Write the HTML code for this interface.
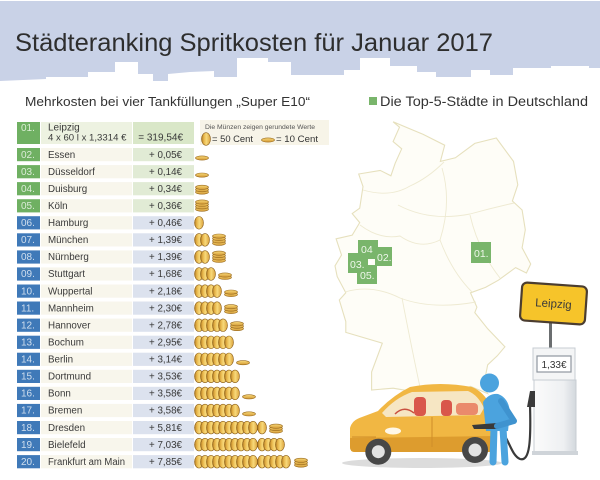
<!DOCTYPE html>
<html><head><meta charset="utf-8"><style>
html,body{margin:0;padding:0;background:#fff;}
svg{display:block;}
text{font-family:"Liberation Sans",sans-serif;}
</style></head><body>
<svg width="600" height="480" viewBox="0 0 600 480" xmlns="http://www.w3.org/2000/svg">
<defs>
<linearGradient id="cg" x1="0" y1="0" x2="1" y2="0">
<stop offset="0" stop-color="#a8741f"/><stop offset="0.25" stop-color="#e6b348"/><stop offset="0.55" stop-color="#f8da7a"/><stop offset="1" stop-color="#d89f3a"/>
</linearGradient>
<linearGradient id="fg" x1="0" y1="0" x2="0" y2="1">
<stop offset="0" stop-color="#f8d97a"/><stop offset="1" stop-color="#d49a35"/>
</linearGradient>
<linearGradient id="pg" x1="0" y1="0" x2="1" y2="0">
<stop offset="0" stop-color="#fbfbfb"/><stop offset="0.7" stop-color="#eef0f2"/><stop offset="1" stop-color="#d3d8dd"/>
</linearGradient>
<ellipse id="c" cx="0" cy="0" rx="4.5" ry="6.3" fill="url(#cg)" stroke="#8a5d18" stroke-width="0.6"/>
<ellipse id="f" cx="0" cy="0" rx="6.5" ry="2.1" fill="url(#fg)" stroke="#9a6b1e" stroke-width="0.6"/>
</defs>

<!-- header band -->
<rect x="0" y="1" width="600" height="86" fill="#c9d2e7"/>
<polygon fill="#ffffff" points="0,81 46,79 46,77 88,77 88,72 115,72 115,62 138,62 138,74 153,74 153,81 168,81 168,74 190,72 214,71 214,77 237,77 237,58 268,58 268,62 291,62 291,75 344,75 344,70 360,70 360,58 390,58 390,66 417,66 417,72 436,72 436,77 471,77 471,70 490,70 490,75 513,75 513,68 551,68 551,66 589,66 589,68 600,68 600,90 0,90"/>
<text x="15" y="51" font-size="25" textLength="478" lengthAdjust="spacingAndGlyphs" fill="#2e2e2e">Städteranking Spritkosten für Januar 2017</text>

<text x="25" y="106" font-size="13" textLength="285" lengthAdjust="spacingAndGlyphs" fill="#333">Mehrkosten bei vier Tankfüllungen „Super E10“</text>
<rect x="369" y="97" width="8" height="8" fill="#79b56b"/>
<text x="380" y="106" font-size="13.5" textLength="208" lengthAdjust="spacingAndGlyphs" fill="#333">Die Top-5-Städte in Deutschland</text>

<!-- map -->
<path d="M393.1,121.8 L410.3,129 L423.2,134.4 L444.7,145.2 L440.4,161.4 L455.4,157.8 L474.8,143.4 L496.3,138 L513.5,161.4 L517.8,184.8 L512.4,201 L522.1,210 L525.3,229.8 L522.1,247.8 L530.7,264 L526.4,273 L515.6,267.6 L498.4,280.2 L485.5,287.4 L470.5,292.8 L476.9,307.2 L474.8,312.6 L487.7,328.8 L504.9,346.8 L497.3,355.8 L487.7,364.8 L483.4,386.4 L487.7,393.6 L470.5,386.4 L449,397.2 L433.9,391.8 L423.2,397.2 L414.6,391.8 L393.1,388.2 L371.6,390 L371.6,372 L382.3,343.2 L345.8,332.4 L345.8,321.6 L339.3,300 L345.8,292.8 L337.2,276.6 L335,265.8 L341.5,255 L336.1,238.8 L352.2,235.2 L359.7,222.6 L352.2,213.6 L359.7,208.2 L363,186.6 L358.7,174 L380.2,170.4 L390.9,175.8 L395.2,163.2 L401.7,148.8 L393.1,141.6 L399.5,127.2 Z" fill="#fefdf7" stroke="#e6e0bd" stroke-width="1.1"/>
<g fill="none" stroke="#eeead2" stroke-width="0.9">
<path d="M363,190 Q390,198 410,186 Q428,178 444,162"/>
<path d="M398,205 Q430,222 470,214 Q492,208 514,203"/>
<path d="M345,292 Q372,284 400,298 Q432,310 476,302"/>
<path d="M402,298 Q410,340 421,392"/>
<path d="M442,168 Q452,202 440,240 Q452,272 472,292"/>
<path d="M470,215 Q478,250 500,278"/>
<path d="M360,225 Q380,240 400,236 Q420,250 440,240"/>
</g>
<!-- map markers -->
<g fill="#79b56b">
<rect x="471" y="242" width="20" height="21"/>
<rect x="358" y="240" width="20" height="19"/>
<rect x="375" y="247" width="17" height="19"/>
<rect x="348" y="253" width="20" height="20"/>
<rect x="357" y="265" width="20" height="19"/>
</g>
<rect x="369" y="261" width="2.5" height="2.5" fill="#fff"/>
<g font-size="10.5" fill="#eef7ea">
<text x="474" y="257">01.</text>
<text x="361" y="253">04</text>
<text x="377" y="261">02.</text>
<text x="350" y="268">03.</text>
<text x="360" y="279">05.</text>
</g>

<!-- legend box -->
<rect x="200" y="120" width="129" height="25" fill="#f7f4e8"/>
<text x="205" y="129" font-size="6.7" textLength="110" lengthAdjust="spacingAndGlyphs" fill="#555">Die Münzen zeigen gerundete Werte</text>
<use href="#c" x="206" y="139"/>
<text x="212" y="142" font-size="9.5" textLength="41" lengthAdjust="spacingAndGlyphs" fill="#333">= 50 Cent</text>
<use href="#f" x="268" y="140"/>
<text x="276" y="142" font-size="9.5" textLength="42" lengthAdjust="spacingAndGlyphs" fill="#333">= 10 Cent</text>

<!-- table row 01 -->
<rect x="17" y="122" width="23" height="22" fill="#6fb062"/>
<rect x="41" y="122" width="91" height="22" fill="#edf2e1"/>
<rect x="133" y="122" width="61" height="22" fill="#d9e7c8"/>
<text x="21" y="131" font-size="10" fill="#dcefd6">01.</text>
<text x="48" y="130.5" font-size="10" fill="#3a3a3a">Leipzig</text>
<text x="48" y="140.5" font-size="9.6" fill="#3a3a3a">4 x 60 l x 1,3314 €</text>
<text x="183" y="140.5" font-size="10" text-anchor="end" fill="#3a3a3a">= 319,54€</text>

<!-- rows 02-20 backgrounds -->
<g>
<rect x="17" y="148.0" width="23" height="13.2" fill="#6fb062"/><rect x="41" y="148.0" width="91" height="13.2" fill="#f8f6ec"/><rect x="133" y="148.0" width="61" height="13.2" fill="#e1ebd5"/>
<rect x="17" y="165.1" width="23" height="13.2" fill="#6fb062"/><rect x="41" y="165.1" width="91" height="13.2" fill="#f8f6ec"/><rect x="133" y="165.1" width="61" height="13.2" fill="#e1ebd5"/>
<rect x="17" y="182.1" width="23" height="13.2" fill="#6fb062"/><rect x="41" y="182.1" width="91" height="13.2" fill="#f8f6ec"/><rect x="133" y="182.1" width="61" height="13.2" fill="#e1ebd5"/>
<rect x="17" y="199.2" width="23" height="13.2" fill="#6fb062"/><rect x="41" y="199.2" width="91" height="13.2" fill="#f8f6ec"/><rect x="133" y="199.2" width="61" height="13.2" fill="#e1ebd5"/>
<rect x="17" y="216.2" width="23" height="13.2" fill="#3f79b8"/><rect x="41" y="216.2" width="91" height="13.2" fill="#f8f6ec"/><rect x="133" y="216.2" width="61" height="13.2" fill="#dce2ee"/>
<rect x="17" y="233.3" width="23" height="13.2" fill="#3f79b8"/><rect x="41" y="233.3" width="91" height="13.2" fill="#f8f6ec"/><rect x="133" y="233.3" width="61" height="13.2" fill="#dce2ee"/>
<rect x="17" y="250.4" width="23" height="13.2" fill="#3f79b8"/><rect x="41" y="250.4" width="91" height="13.2" fill="#f8f6ec"/><rect x="133" y="250.4" width="61" height="13.2" fill="#dce2ee"/>
<rect x="17" y="267.4" width="23" height="13.2" fill="#3f79b8"/><rect x="41" y="267.4" width="91" height="13.2" fill="#f8f6ec"/><rect x="133" y="267.4" width="61" height="13.2" fill="#dce2ee"/>
<rect x="17" y="284.5" width="23" height="13.2" fill="#3f79b8"/><rect x="41" y="284.5" width="91" height="13.2" fill="#f8f6ec"/><rect x="133" y="284.5" width="61" height="13.2" fill="#dce2ee"/>
<rect x="17" y="301.5" width="23" height="13.2" fill="#3f79b8"/><rect x="41" y="301.5" width="91" height="13.2" fill="#f8f6ec"/><rect x="133" y="301.5" width="61" height="13.2" fill="#dce2ee"/>
<rect x="17" y="318.6" width="23" height="13.2" fill="#3f79b8"/><rect x="41" y="318.6" width="91" height="13.2" fill="#f8f6ec"/><rect x="133" y="318.6" width="61" height="13.2" fill="#dce2ee"/>
<rect x="17" y="335.7" width="23" height="13.2" fill="#3f79b8"/><rect x="41" y="335.7" width="91" height="13.2" fill="#f8f6ec"/><rect x="133" y="335.7" width="61" height="13.2" fill="#dce2ee"/>
<rect x="17" y="352.7" width="23" height="13.2" fill="#3f79b8"/><rect x="41" y="352.7" width="91" height="13.2" fill="#f8f6ec"/><rect x="133" y="352.7" width="61" height="13.2" fill="#dce2ee"/>
<rect x="17" y="369.8" width="23" height="13.2" fill="#3f79b8"/><rect x="41" y="369.8" width="91" height="13.2" fill="#f8f6ec"/><rect x="133" y="369.8" width="61" height="13.2" fill="#dce2ee"/>
<rect x="17" y="386.8" width="23" height="13.2" fill="#3f79b8"/><rect x="41" y="386.8" width="91" height="13.2" fill="#f8f6ec"/><rect x="133" y="386.8" width="61" height="13.2" fill="#dce2ee"/>
<rect x="17" y="403.9" width="23" height="13.2" fill="#3f79b8"/><rect x="41" y="403.9" width="91" height="13.2" fill="#f8f6ec"/><rect x="133" y="403.9" width="61" height="13.2" fill="#dce2ee"/>
<rect x="17" y="421.0" width="23" height="13.2" fill="#3f79b8"/><rect x="41" y="421.0" width="91" height="13.2" fill="#f8f6ec"/><rect x="133" y="421.0" width="61" height="13.2" fill="#dce2ee"/>
<rect x="17" y="438.0" width="23" height="13.2" fill="#3f79b8"/><rect x="41" y="438.0" width="91" height="13.2" fill="#f8f6ec"/><rect x="133" y="438.0" width="61" height="13.2" fill="#dce2ee"/>
<rect x="17" y="455.1" width="23" height="13.2" fill="#3f79b8"/><rect x="41" y="455.1" width="91" height="13.2" fill="#f8f6ec"/><rect x="133" y="455.1" width="61" height="13.2" fill="#dce2ee"/>
</g>

<!-- number labels -->
<g font-size="10" fill="rgba(255,255,255,0.75)">
<text x="21" y="157.8">02.</text><text x="21" y="174.9">03.</text><text x="21" y="191.9">04.</text><text x="21" y="209.0">05.</text>
<text x="21" y="226.0">06.</text><text x="21" y="243.1">07.</text><text x="21" y="260.2">08.</text><text x="21" y="277.2">09.</text>
<text x="21" y="294.3">10.</text><text x="21" y="311.3">11.</text><text x="21" y="328.4">12.</text><text x="21" y="345.5">13.</text>
<text x="21" y="362.5">14.</text><text x="21" y="379.6">15.</text><text x="21" y="396.6">16.</text><text x="21" y="413.7">17.</text>
<text x="21" y="430.8">18.</text><text x="21" y="447.8">19.</text><text x="21" y="464.9">20.</text>
</g>
<!-- names -->
<g font-size="9.8" fill="#3a3a3a">
<text x="48" y="157.8">Essen</text><text x="48" y="174.9">Düsseldorf</text><text x="48" y="191.9">Duisburg</text><text x="48" y="209.0">Köln</text>
<text x="48" y="226.0">Hamburg</text><text x="48" y="243.1">München</text><text x="48" y="260.2">Nürnberg</text><text x="48" y="277.2">Stuttgart</text>
<text x="48" y="294.3">Wuppertal</text><text x="48" y="311.3">Mannheim</text><text x="48" y="328.4">Hannover</text><text x="48" y="345.5">Bochum</text>
<text x="48" y="362.5">Berlin</text><text x="48" y="379.6">Dortmund</text><text x="48" y="396.6">Bonn</text><text x="48" y="413.7">Bremen</text>
<text x="48" y="430.8">Dresden</text><text x="48" y="447.8">Bielefeld</text><text x="48" y="464.9" textLength="77" lengthAdjust="spacingAndGlyphs">Frankfurt am Main</text>
</g>
<!-- values -->
<g font-size="9.8" fill="#3a3a3a" text-anchor="end">
<text x="182" y="157.8">+ 0,05€</text><text x="182" y="174.9">+ 0,14€</text><text x="182" y="191.9">+ 0,34€</text><text x="182" y="209.0">+ 0,36€</text>
<text x="182" y="226.0">+ 0,46€</text><text x="182" y="243.1">+ 1,39€</text><text x="182" y="260.2">+ 1,39€</text><text x="182" y="277.2">+ 1,68€</text>
<text x="182" y="294.3">+ 2,18€</text><text x="182" y="311.3">+ 2,30€</text><text x="182" y="328.4">+ 2,78€</text><text x="182" y="345.5">+ 2,95€</text>
<text x="182" y="362.5">+ 3,14€</text><text x="182" y="379.6">+ 3,53€</text><text x="182" y="396.6">+ 3,58€</text><text x="182" y="413.7">+ 3,58€</text>
<text x="182" y="430.8">+ 5,81€</text><text x="182" y="447.8">+ 7,03€</text><text x="182" y="464.9">+ 7,85€</text>
</g>

<!-- coins -->
<g>
<use href="#f" x="202" y="158.0"/>
<use href="#f" x="202" y="175.1"/>
<use href="#f" x="202" y="192.1"/><use href="#f" x="202" y="189.7"/><use href="#f" x="202" y="187.3"/>
<use href="#f" x="202" y="209.2"/><use href="#f" x="202" y="206.8"/><use href="#f" x="202" y="204.4"/><use href="#f" x="202" y="202.0"/>
<use href="#c" x="199" y="222.8"/>
<use href="#c" x="199" y="239.9"/><use href="#c" x="205" y="239.9"/>
<use href="#f" x="219" y="243.3"/><use href="#f" x="219" y="240.9"/><use href="#f" x="219" y="238.5"/><use href="#f" x="219" y="236.1"/>
<use href="#c" x="199" y="257.0"/><use href="#c" x="205" y="257.0"/>
<use href="#f" x="219" y="260.4"/><use href="#f" x="219" y="258.0"/><use href="#f" x="219" y="255.6"/><use href="#f" x="219" y="253.2"/>
<use href="#c" x="199" y="274.0"/><use href="#c" x="205" y="274.0"/><use href="#c" x="211" y="274.0"/>
<use href="#f" x="225" y="277.4"/><use href="#f" x="225" y="275.0"/>
<use href="#c" x="199" y="291.1"/><use href="#c" x="205" y="291.1"/><use href="#c" x="211" y="291.1"/><use href="#c" x="217" y="291.1"/>
<use href="#f" x="231" y="294.5"/><use href="#f" x="231" y="292.1"/>
<use href="#c" x="199" y="308.1"/><use href="#c" x="205" y="308.1"/><use href="#c" x="211" y="308.1"/><use href="#c" x="217" y="308.1"/>
<use href="#f" x="231" y="311.5"/><use href="#f" x="231" y="309.1"/><use href="#f" x="231" y="306.7"/>
<use href="#c" x="199" y="325.2"/><use href="#c" x="205" y="325.2"/><use href="#c" x="211" y="325.2"/><use href="#c" x="217" y="325.2"/><use href="#c" x="223" y="325.2"/>
<use href="#f" x="237" y="328.6"/><use href="#f" x="237" y="326.2"/><use href="#f" x="237" y="323.8"/>
<use href="#c" x="199" y="342.3"/><use href="#c" x="205" y="342.3"/><use href="#c" x="211" y="342.3"/><use href="#c" x="217" y="342.3"/><use href="#c" x="223" y="342.3"/><use href="#c" x="229" y="342.3"/>
<use href="#c" x="199" y="359.3"/><use href="#c" x="205" y="359.3"/><use href="#c" x="211" y="359.3"/><use href="#c" x="217" y="359.3"/><use href="#c" x="223" y="359.3"/><use href="#c" x="229" y="359.3"/>
<use href="#f" x="243" y="362.7"/>
<use href="#c" x="199" y="376.4"/><use href="#c" x="205" y="376.4"/><use href="#c" x="211" y="376.4"/><use href="#c" x="217" y="376.4"/><use href="#c" x="223" y="376.4"/><use href="#c" x="229" y="376.4"/><use href="#c" x="235" y="376.4"/>
<use href="#c" x="199" y="393.4"/><use href="#c" x="205" y="393.4"/><use href="#c" x="211" y="393.4"/><use href="#c" x="217" y="393.4"/><use href="#c" x="223" y="393.4"/><use href="#c" x="229" y="393.4"/><use href="#c" x="235" y="393.4"/>
<use href="#f" x="249" y="396.8"/>
<use href="#c" x="199" y="410.5"/><use href="#c" x="205" y="410.5"/><use href="#c" x="211" y="410.5"/><use href="#c" x="217" y="410.5"/><use href="#c" x="223" y="410.5"/><use href="#c" x="229" y="410.5"/><use href="#c" x="235" y="410.5"/>
<use href="#f" x="249" y="413.9"/>
<use href="#c" x="199" y="427.6"/><use href="#c" x="205" y="427.6"/><use href="#c" x="211" y="427.6"/><use href="#c" x="217" y="427.6"/><use href="#c" x="223" y="427.6"/><use href="#c" x="229" y="427.6"/><use href="#c" x="235" y="427.6"/><use href="#c" x="241" y="427.6"/><use href="#c" x="247" y="427.6"/><use href="#c" x="253" y="427.6"/><use href="#c" x="262" y="427.6"/>
<use href="#f" x="276" y="431.0"/><use href="#f" x="276" y="428.6"/><use href="#f" x="276" y="426.2"/>
<use href="#c" x="199" y="444.6"/><use href="#c" x="205" y="444.6"/><use href="#c" x="211" y="444.6"/><use href="#c" x="217" y="444.6"/><use href="#c" x="223" y="444.6"/><use href="#c" x="229" y="444.6"/><use href="#c" x="235" y="444.6"/><use href="#c" x="241" y="444.6"/><use href="#c" x="247" y="444.6"/><use href="#c" x="253" y="444.6"/><use href="#c" x="262" y="444.6"/><use href="#c" x="268" y="444.6"/><use href="#c" x="274" y="444.6"/><use href="#c" x="280" y="444.6"/>
<use href="#c" x="199" y="461.7"/><use href="#c" x="205" y="461.7"/><use href="#c" x="211" y="461.7"/><use href="#c" x="217" y="461.7"/><use href="#c" x="223" y="461.7"/><use href="#c" x="229" y="461.7"/><use href="#c" x="235" y="461.7"/><use href="#c" x="241" y="461.7"/><use href="#c" x="247" y="461.7"/><use href="#c" x="253" y="461.7"/><use href="#c" x="262" y="461.7"/><use href="#c" x="268" y="461.7"/><use href="#c" x="274" y="461.7"/><use href="#c" x="280" y="461.7"/><use href="#c" x="286" y="461.7"/>
<use href="#f" x="301" y="465.1"/><use href="#f" x="301" y="462.7"/><use href="#f" x="301" y="460.3"/>
</g>

<!-- sign -->
<rect x="549" y="323" width="3" height="26" fill="#6b6e70"/>
<g transform="rotate(4 553.5 303.5)">
<rect x="521" y="284.5" width="65" height="38" rx="5" fill="#f6c42a" stroke="#4b3d30" stroke-width="2.2"/>
<text x="553.5" y="307.5" font-size="11.5" text-anchor="middle" fill="#3a3a3a">Leipzig</text>
</g>

<!-- pump -->
<rect x="533" y="348" width="42" height="32" fill="#f4f5f6" stroke="#c7cdd3" stroke-width="1"/>
<rect x="537" y="356" width="34" height="16" fill="#ffffff" stroke="#8f979f" stroke-width="1.2"/>
<text x="554" y="368" font-size="10" text-anchor="middle" fill="#333">1,33€</text>
<rect x="534" y="380" width="42" height="73" fill="url(#pg)" stroke="#c7cdd3" stroke-width="1"/>
<rect x="532" y="451" width="46" height="4" fill="#cfd4d9"/>

<!-- car shadow -->
<ellipse cx="422" cy="463" rx="80" ry="5" fill="#dcdcdc"/>
<!-- car -->
<path d="M350,447 L350,428 Q352,420 362,417 L378,411 Q392,396 410,387 Q440,381 472,387 Q484,392 490,405 Q495,420 495,445 Q495,452 488,452 L355,452 Q350,452 350,447 Z" fill="#f1b743"/>
<path d="M350,438 L495,436 L495,447 Q495,452 488,452 L355,452 Q350,452 350,447 Z" fill="#dd9c2e"/>
<path d="M382,413 Q395,398 412,392 L468,391 Q478,395 484,408 L480,415 L386,417 Z" fill="#f6e6c3"/>
<rect x="414" y="397" width="12" height="19" rx="4" fill="#d9574b"/>
<rect x="441" y="400" width="11" height="16" rx="4" fill="#d9574b"/>
<rect x="456" y="403" width="22" height="12" rx="4" fill="#ea8a6c"/>
<path d="M395,414 Q404,405 414,413" fill="none" stroke="#c9503f" stroke-width="1.5"/>
<path d="M432,417 L432,447 M352,437 L376,437" stroke="#cf8e29" stroke-width="1" fill="none"/>
<ellipse cx="393" cy="431" rx="8" ry="3.5" fill="#fff8e8"/>
<circle cx="378.3" cy="451.7" r="13" fill="#474747"/>
<circle cx="378.3" cy="451.7" r="6.5" fill="#e2e2e2"/>
<circle cx="475" cy="450" r="13" fill="#474747"/>
<circle cx="475" cy="450" r="6.5" fill="#e2e2e2"/>

<!-- hose & nozzle -->
<path d="M496,427 C508,432 510,455 520,459 C530,462 531,440 530,405" fill="none" stroke="#3a3a3a" stroke-width="2.2"/>
<path d="M527,407 L530,391 L535,391 L535,407 Z" fill="#3a3a3a"/>

<!-- man -->
<path d="M494,428 L493,462 M503,428 L505,462" stroke="#4ba3de" stroke-width="7" stroke-linecap="round" fill="none"/>
<path d="M483,402 Q489,393 498,394 Q509,398 510,413 L508,431 L486,431 Z" fill="#4ba3de"/>
<path d="M472,425 L497,423 L497,429 L474,429 Z" fill="#3a3a3a"/>
<path d="M501,401 L514,421 L497,426" stroke="#3f93cf" stroke-width="6" stroke-linecap="round" stroke-linejoin="round" fill="none"/>
<circle cx="489.5" cy="383" r="9.5" fill="#4ba3de"/>
</svg>
</body></html>
